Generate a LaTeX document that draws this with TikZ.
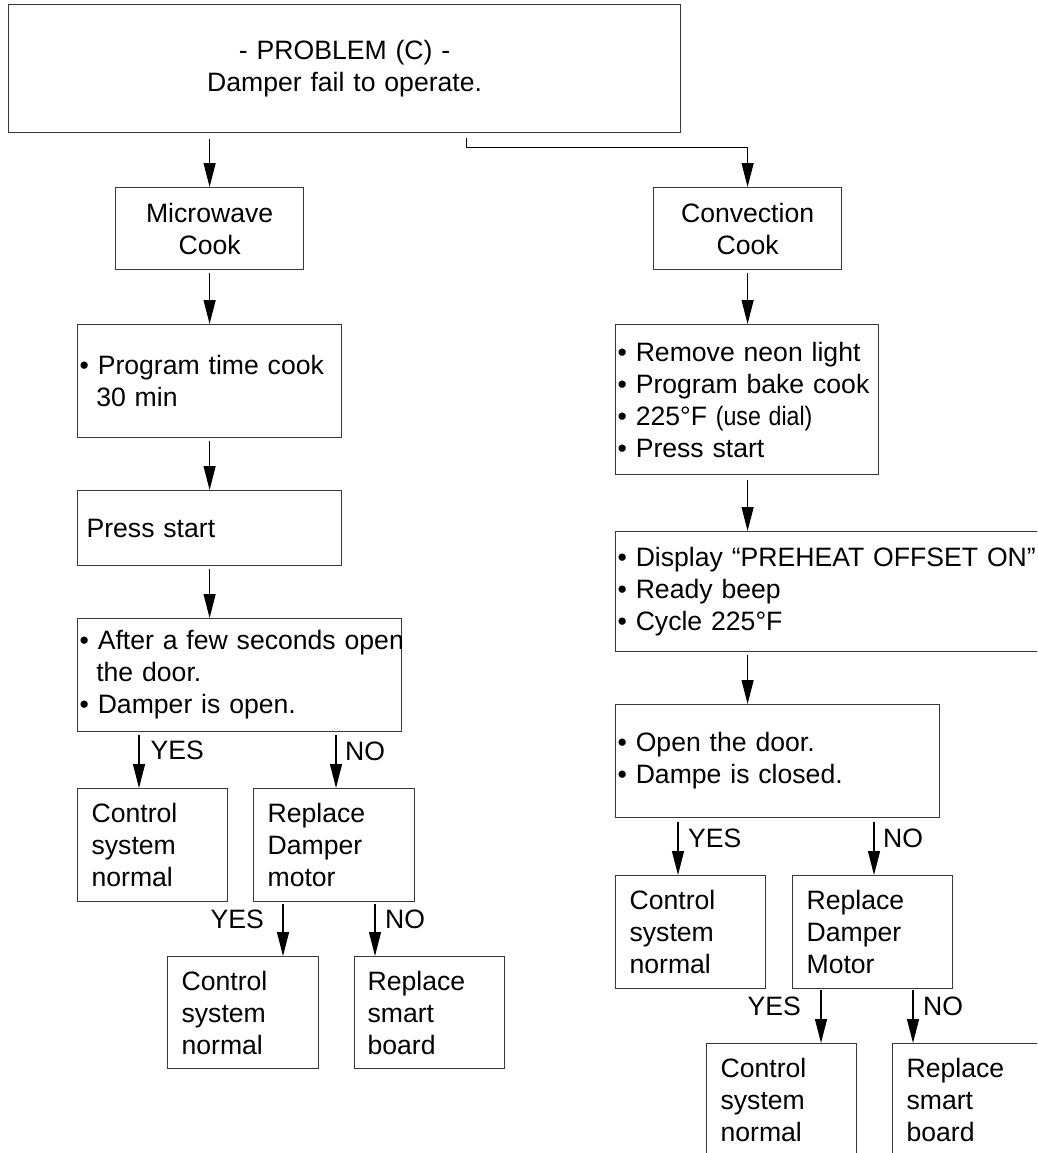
\documentclass[tikz,border=0pt]{standalone}
\usepackage{fontspec}
\setmainfont{Liberation Sans}
\usepackage{graphicx}
\usetikzlibrary{arrows.meta}
\newcommand\ind{\hspace*{0.628em}}
\tikzset{
  box/.style={draw=black!78, line width=1.2pt, rectangle, anchor=north west,
    inner ysep=0pt, font=\fontsize{26.6}{32}\selectfont},
  arr/.style={draw=black, line width=1.2pt, -{Triangle[width=12pt,length=24pt]},
    shorten <=3pt},
  lbl/.style={inner sep=0pt, font=\fontsize{26.6}{32}\selectfont},
}
\begin{document}
\begin{tikzpicture}[x=1pt,y=-1pt]
\useasboundingbox (0,0) rectangle (1037,1153);
\clip (0,0) rectangle (1037,1153);
% boxes
\node[box, minimum height=128pt, text width=668pt, inner xsep=2pt, align=center] (top) at (8,4) {- PROBLEM (C) -\\Damper fail to operate.};
\node[box, minimum height=82pt, text width=184pt, inner xsep=2pt, align=center] (micro) at (115,187) {Microwave\\Cook};
\node[box, minimum height=82pt, text width=184pt, inner xsep=2pt, align=center] (conv) at (653,187) {Convection\\Cook};
% left column
\node[box, minimum height=113pt, text width=260pt, inner xsep=2pt, align=left] (prog) at (77,324) {• Program time cook\\\ind 30 min};
\node[box, minimum height=75pt, text width=246pt, inner xsep=9pt, align=left] (press) at (77,490) {Press start};
\node[box, minimum height=113pt, text width=320pt, inner xsep=2pt, align=left] (after) at (77,618) {\mbox{• After a few seconds open}\\\ind the door.\\• Damper is open.};
\node[box, minimum height=113pt, text width=122pt, inner xsep=14pt, align=left] (ctl1) at (77,788) {Control\\system\\normal};
\node[box, minimum height=113pt, text width=133pt, inner xsep=14pt, align=left] (rep1) at (253,788) {Replace\\Damper\\motor};
\node[box, minimum height=112pt, text width=123pt, inner xsep=14pt, align=left] (ctl2) at (167,956) {Control\\system\\normal};
\node[box, minimum height=112pt, text width=124pt, inner xsep=13pt, align=left] (sb1) at (354,956) {Replace\\smart\\board};
% right column
\node[box, minimum height=150pt, text width=259pt, inner xsep=2pt, align=left] (box2) at (615,324) {• Remove neon light\\• Program bake cook\\• 225°F \scalebox{0.87}[1]{(use dial)}\\• Press start};
\node[box, minimum height=120pt, text width=436pt, inner xsep=2pt, align=left] (box3) at (615,531) {\mbox{• Display “PREHEAT OFFSET ON”}\\• Ready beep\\• Cycle 225°F};
\node[box, minimum height=113pt, text width=320pt, inner xsep=2pt, align=left] (box4) at (615,704) {• Open the door.\\• Dampe is closed.};
\node[box, minimum height=113pt, text width=122pt, inner xsep=14pt, align=left] (ctl3) at (615,875) {Control\\system\\normal};
\node[box, minimum height=113pt, text width=132pt, inner xsep=14pt, align=left] (rep2) at (792,875) {Replace\\Damper\\Motor};
\node[box, minimum height=113pt, text width=122pt, inner xsep=14pt, align=left] (ctl4) at (706,1043) {Control\\system\\normal};
\node[box, minimum height=113pt, text width=122pt, inner xsep=14pt, align=left] (sb2) at (892,1043) {Replace\\smart\\board};
% main connectors
\draw[arr, shorten <=6pt] (micro.north |- top.south) -- (micro.north);
\coordinate (s2) at ([xshift=122pt,yshift=-5pt]top.south);
\draw[arr, shorten <=0pt] (s2) -- ++(0,9) -| (conv.north);
\draw[arr] (micro.south) -- (micro.south |- prog.north);
\draw[arr] (prog.south) -- (prog.south |- press.north);
\draw[arr] (press.south) -- (press.south |- after.north);
\draw[arr] (conv.south) -- (conv.south |- box2.north);
\draw[arr, shorten <=5pt] (conv.south |- box2.south) -- (conv.south |- box3.north);
\draw[arr] (conv.south |- box3.south) -- (conv.south |- box4.north);
% branch coordinates
\coordinate (e7) at ([xshift=62pt]ctl1.north west);
\coordinate (e8) at ([xshift=83pt]rep1.north west);
\coordinate (e9) at ([xshift=116pt]ctl2.north west);
\coordinate (e10) at ([xshift=21pt]sb1.north west);
\coordinate (e13) at ([xshift=63pt]ctl3.north west);
\coordinate (e14) at ([xshift=82pt]rep2.north west);
\coordinate (e15) at ([xshift=115pt]ctl4.north west);
\coordinate (e16) at ([xshift=21pt]sb2.north west);
\coordinate (s7) at (e7 |- after.south);
\coordinate (s8) at (e8 |- after.south);
\coordinate (s9) at (e9 |- rep1.south);
\coordinate (s10) at (e10 |- rep1.south);
\coordinate (s13) at (e13 |- box4.south);
\coordinate (s14) at (e14 |- box4.south);
\coordinate (s15) at (e15 |- rep2.south);
\coordinate (s16) at (e16 |- rep2.south);
\draw[arr] (s7) -- (e7);
\draw[arr] (s8) -- (e8);
\draw[arr, shorten <=2pt] (s9) -- (e9);
\draw[arr, shorten <=2pt] (s10) -- (e10);
\draw[arr, shorten <=4pt] (s13) -- (e13);
\draw[arr, shorten <=4pt] (s14) -- (e14);
\draw[arr, shorten <=1pt] (s15) -- (e15);
\draw[arr, shorten <=1pt] (s16) -- (e16);
% labels
\node[lbl, anchor=west] (l7) at ([xshift=11.5pt,yshift=-18pt]s7) {YES};
\node[lbl, anchor=west] (l8) at ([xshift=9pt,yshift=-19pt]s8) {NO};
\node[lbl, anchor=east] (l9) at ([xshift=-19pt,yshift=-17pt]s9) {YES};
\node[lbl, anchor=west] (l10) at ([xshift=10pt,yshift=-17pt]s10) {NO};
\node[lbl, anchor=west] (l13) at ([xshift=10pt,yshift=-20pt]s13) {YES};
\node[lbl, anchor=west] (l14) at ([xshift=9pt,yshift=-20pt]s14) {NO};
\node[lbl, anchor=east] (l15) at ([xshift=-20pt,yshift=-17pt]s15) {YES};
\node[lbl, anchor=west] (l16) at ([xshift=10pt,yshift=-17pt]s16) {NO};
\end{tikzpicture}
\end{document}
